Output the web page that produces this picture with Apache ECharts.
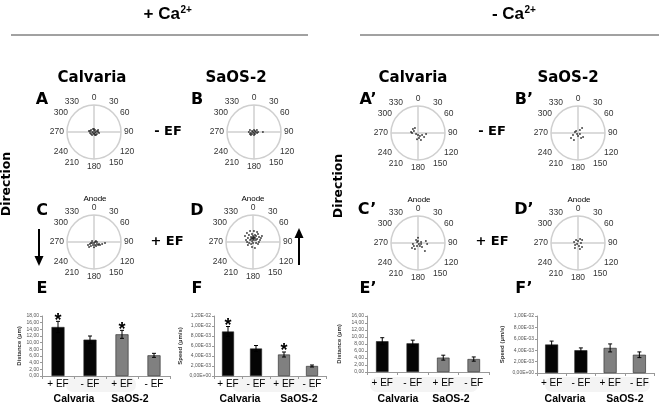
<!DOCTYPE html>
<html><head><meta charset="utf-8">
<script src="https://cdn.jsdelivr.net/npm/echarts@6/dist/echarts.min.js"></script>
<style>html,body{margin:0;padding:0;background:#fff}#c{width:662px;height:406px}</style>
</head><body><div id="c"></div>
<script>
// ---------- DATA ----------
const groups = ['+ EF', '- EF', '+ EF', '- EF'];
const cellTypes = ['Calvaria', 'SaOS-2'];
const angleTicks = [0, 30, 60, 90, 120, 150, 180, 210, 240, 270, 300, 330];

// +Ca2+ : distance (µm) and speed (µm/s)
const distPlusCa = [14.7, 10.9, 12.5, 6.2];
const distPlusCaErr = [1.7, 1.1, 1.2, 0.6];
const speedPlusCa = [0.0089, 0.0055, 0.0043, 0.0020];
const speedPlusCaErr = [0.0010, 0.0006, 0.0005, 0.0002];
const sigPlusCa = [1, 0, 1, 0];

// -Ca2+
const distMinusCa = [8.8, 8.2, 4.1, 3.7];
const distMinusCaErr = [1.0, 0.9, 0.7, 0.6];
const speedMinusCa = [0.0050, 0.0040, 0.0044, 0.0032];
const speedMinusCaErr = [0.0006, 0.0004, 0.0007, 0.0005];
const sigMinusCa = [0, 0, 0, 0];

const distTicks16 = ['0,00','2,00','4,00','6,00','8,00','10,00','12,00','14,00','16,00'];
const distTicks18 = ['0,00','2,00','4,00','6,00','8,00','10,00','12,00','14,00','16,00','18,00'];
const speedTicks12 = ['0,00E+00','2,00E-03','4,00E-03','6,00E-03','8,00E-03','1,00E-02','1,20E-02'];
const speedTicks10 = ['0,00E+00','2,00E-03','4,00E-03','6,00E-03','8,00E-03','1,00E-02'];

// direction scatter: [normalised distance, angle in degrees (0 = anode)]
const dirA = [[0.19,281],[0.15,256],[0.13,304],[0.13,236],[0.07,270],[0.12,342],[0.05,225],[0.04,0],[0.07,180],[0.08,27],[0.05,135],[0.07,90],[0.13,146],[0.12,72],[0.13,124],[0.15,90],[0.19,101],[0.13,214],[0.11,0],[0.15,284],[0.12,162],[0.17,63]];
const dirB = [[0.19,270],[0.17,297],[0.12,252],[0.08,297],[0.10,225],[0.04,270],[0.07,0],[0.04,180],[0.05,45],[0.08,153],[0.07,90],[0.13,56],[0.12,108],[0.16,225],[0.11,180],[0.17,243],[0.15,90],[0.33,90]];
const dirC = [[0.25,243],[0.17,243],[0.19,217],[0.08,243],[0.12,198],[0.04,180],[0.12,162],[0.17,153],[0.13,124],[0.19,127],[0.20,112],[0.25,117],[0.31,104],[0.41,95],[0.26,225],[0.19,180],[0.08,63],[0.08,297],[0.04,90],[0.11,90],[0.12,252]];
const dirD = [[0.37,307],[0.40,326],[0.24,309],[0.30,330],[0.13,304],[0.20,338],[0.30,353],[0.15,0],[0.11,0],[0.19,11],[0.08,27],[0.27,16],[0.17,27],[0.25,27],[0.19,53],[0.35,32],[0.29,50],[0.27,74],[0.33,63],[0.40,56],[0.27,286],[0.22,270],[0.15,256],[0.10,225],[0.04,180],[0.12,108],[0.20,112],[0.19,191],[0.23,162],[0.42,345],[0.41,5],[0.40,22],[0.05,315],[0.22,0],[0.13,326],[0.13,56],[0.22,239],[0.22,90],[0.15,346],[0.15,14]];
const dirA2 = [[0.24,309],[0.17,297],[0.26,278],[0.08,243],[0.07,180],[0.13,146],[0.17,117],[0.30,97],[0.19,169],[0.23,189],[0.28,157],[0.22,329],[0.22,270],[0.27,124]];
const dirB2 = [[0.32,234],[0.20,248],[0.12,288],[0.10,315],[0.13,34],[0.24,39],[0.11,180],[0.22,149],[0.24,129],[0.30,210],[0.05,225],[0.08,117]];
const dirC2 = [[0.19,0],[0.13,326],[0.07,0],[0.12,72],[0.30,76],[0.34,96],[0.19,259],[0.19,233],[0.12,198],[0.13,146],[0.21,135],[0.39,139],[0.29,230],[0.05,135],[0.05,315],[0.12,108],[0.25,207]];
const dirD2 = [[0.13,326],[0.17,27],[0.19,53],[0.15,284],[0.07,0],[0.11,90],[0.13,236],[0.12,162],[0.21,135],[0.22,211],[0.23,162],[0.05,225]];

// ---------- LAYOUT ----------
const FB = '"Liberation Sans", Arial, sans-serif';
const FD = '"DejaVu Sans", sans-serif';
const roses = [
  {pts: dirA,  c: [94, 132]}, {pts: dirB,  c: [254, 132]},
  {pts: dirC,  c: [94, 242]}, {pts: dirD,  c: [253, 242]},
  {pts: dirA2, c: [418, 133]}, {pts: dirB2, c: [578, 133]},
  {pts: dirC2, c: [418, 243]}, {pts: dirD2, c: [578, 243]}
];
const R = 27;

const polar = [], angleAxis = [], radiusAxis = [], series = [];
roses.forEach((r, k) => {
  const li = 2 * k, ci = 2 * k + 1;
  polar.push({center: r.c, radius: R});
  polar.push({center: r.c, radius: R});
  angleAxis.push({
    polarIndex: li, type: 'value', min: 0, max: 360, interval: 30, startAngle: 90, clockwise: true,
    axisLine: {show: true, lineStyle: {color: '#cfcfcf', width: 1.5}},
    axisTick: {show: false}, splitLine: {show: false},
    axisLabel: {show: true, margin: 3, fontSize: 8.5, fontFamily: FB, color: '#333',
      formatter: v => (v >= 360 ? '' : String(v))}
  });
  angleAxis.push({
    polarIndex: ci, type: 'value', min: 0, max: 360, interval: 90, startAngle: 90, clockwise: true,
    axisLine: {show: false}, axisTick: {show: false}, axisLabel: {show: false},
    splitLine: {show: true, lineStyle: {color: '#cfcfcf', width: 1.5}}
  });
  radiusAxis.push({polarIndex: li, type: 'value', min: 0, max: 1, show: false});
  radiusAxis.push({polarIndex: ci, type: 'value', min: 0, max: 1, show: false});
  series.push({type: 'scatter', coordinateSystem: 'polar', polarIndex: li, data: r.pts,
    symbolSize: 2, itemStyle: {color: '#1a1a1a'}, silent: true, z: 5});
});

const bars = [
  {grid: {left: 42, top: 316, width: 128, height: 60}, v: distPlusCa, e: distPlusCaErr, s: sigPlusCa,
   max: 18, step: 2, ticks: distTicks18, name: 'Distance (µm)', gap: 18, bw: 13, lm: 3},
  {grid: {left: 214, top: 316, width: 112, height: 60}, v: speedPlusCa, e: speedPlusCaErr, s: sigPlusCa,
   max: 0.012, step: 0.002, ticks: speedTicks12, name: 'Speed (µm/s)', gap: 31, bw: 12, lm: 3},
  {grid: {left: 367, top: 316, width: 122, height: 56}, v: distMinusCa, e: distMinusCaErr, s: sigMinusCa,
   max: 16, step: 2, ticks: distTicks16, name: 'Distance (µm)', gap: 25, bw: 12.5, lm: 6},
  {grid: {left: 537, top: 316, width: 117, height: 57}, v: speedMinusCa, e: speedMinusCaErr, s: sigMinusCa,
   max: 0.01, step: 0.002, ticks: speedTicks10, name: 'Speed (µm/s)', gap: 32, bw: 13, lm: 5}
];
const grid = [], xAxis = [], yAxis = [];
bars.forEach((b, g) => {
  grid.push(Object.assign({containLabel: false}, b.grid));
  xAxis.push({gridIndex: g, type: 'category', data: groups,
    axisLine: {lineStyle: {color: '#999', width: 1}},
    axisTick: {show: true, length: 3, lineStyle: {color: '#999'}},
    axisLabel: {interval: 0, margin: b.lm, fontSize: 10, color: '#000', fontFamily: FB}});
  yAxis.push({gridIndex: g, type: 'value', min: 0, max: b.max, interval: b.step,
    name: b.name, nameLocation: 'middle', nameGap: b.gap,
    nameTextStyle: {fontSize: 6, fontWeight: 'bold', color: '#333', fontFamily: FB},
    axisLine: {show: true, lineStyle: {color: '#999'}},
    axisTick: {show: true, length: 2, lineStyle: {color: '#999'}},
    splitLine: {show: false},
    axisLabel: {fontSize: 5, color: '#555', margin: 3, fontFamily: FB,
      formatter: v => b.ticks[Math.round(v / b.step)] || ''}});
  series.push({type: 'bar', xAxisIndex: g, yAxisIndex: g, data: b.v, barWidth: b.bw, silent: true,
    itemStyle: {color: p => (p.dataIndex < 2 ? '#050505' : '#808080'), borderColor: '#222', borderWidth: 0.6}});
  series.push({type: 'custom', xAxisIndex: g, yAxisIndex: g, silent: true, z: 10,
    data: b.v.map((m, i) => [i, m, b.e[i], b.s[i]]),
    encode: {x: 0, y: 1},
    renderItem: (params, api) => {
      const i = api.value(0), m = api.value(1), e = api.value(2), s = api.value(3);
      const top = api.coord([i, m + e]), bot = api.coord([i, m - e]);
      const st = {stroke: '#000', lineWidth: 1};
      const ch = [
        {type: 'line', shape: {x1: top[0], y1: top[1], x2: bot[0], y2: bot[1]}, style: st},
        {type: 'line', shape: {x1: top[0] - 2, y1: top[1], x2: top[0] + 2, y2: top[1]}, style: st},
        {type: 'line', shape: {x1: bot[0] - 2, y1: bot[1], x2: bot[0] + 2, y2: bot[1]}, style: st}
      ];
      if (s) ch.push({type: 'text', x: top[0], y: top[1] - 0.5,
        style: {text: '*', font: 'bold 18px ' + FB, fill: '#000', align: 'center', verticalAlign: 'middle'}});
      return {type: 'group', children: ch};
    }});
});

// ---------- TEXT / DECORATION ----------
function T(text, x, y, font, align, extra) {
  return Object.assign({type: 'text', x: x, y: y, silent: true, z: 20,
    style: {text: text, font: font, fill: '#000', align: align || 'center', verticalAlign: 'middle'}}, extra || {});
}
const big = 'bold 15px ' + FD, letter = 'bold 16px ' + FD, ef = 'bold 13px ' + FD;
const graphic = [
  // soft bands behind category labels
  {type: 'rect', shape: {x: 66, y: 377, width: 70, height: 15, r: 7}, style: {fill: '#f4f4f4'}, z: -1, silent: true},
  {type: 'rect', shape: {x: 232, y: 377, width: 84, height: 15, r: 7}, style: {fill: '#f4f4f4'}, z: -1, silent: true},
  {type: 'rect', shape: {x: 370, y: 377, width: 108, height: 15, r: 7}, style: {fill: '#f4f4f4'}, z: -1, silent: true},
  {type: 'rect', shape: {x: 545, y: 377, width: 105, height: 15, r: 7}, style: {fill: '#f4f4f4'}, z: -1, silent: true},
  T('+ Ca', 180, 14, 'bold 17px ' + FB, 'right'),
  T('2+', 180.5, 10, 'bold 10px ' + FB, 'left'),
  T('- Ca', 524, 14, 'bold 17px ' + FB, 'right'),
  T('2+', 524.5, 10, 'bold 10px ' + FB, 'left'),
  {type: 'line', shape: {x1: 11, y1: 35, x2: 308, y2: 35}, style: {stroke: '#444', lineWidth: 1}, silent: true},
  {type: 'line', shape: {x1: 360, y1: 35, x2: 659, y2: 35}, style: {stroke: '#444', lineWidth: 1}, silent: true},
  T(cellTypes[0], 92, 78, big), T(cellTypes[1], 236, 78, big),
  T(cellTypes[0], 413, 78, big), T(cellTypes[1], 568, 78, big),
  T('A', 42, 100, letter), T('B', 197, 100, letter), T('C', 42, 211, letter), T('D', 197, 211, letter),
  T('E', 42, 289, letter), T('F', 197, 289, letter),
  T('A’', 368, 100, letter), T('B’', 524, 100, letter), T('C’', 367, 210, letter), T('D’', 524, 210, letter),
  T('E’', 368, 289, letter), T('F’', 524, 289, letter),
  T('- EF', 168, 132, ef), T('+ EF', 167, 242, ef), T('- EF', 492, 132, ef), T('+ EF', 492, 242, ef),
  T('Anode', 95, 199, '8px ' + FB, 'center'), T('Anode', 253, 199, '8px ' + FB, 'center'),
  T('Anode', 419, 200, '8px ' + FB, 'center'), T('Anode', 579, 200, '8px ' + FB, 'center'),
  T('Direction', 7, 184, 'bold 12.5px ' + FD, 'center', {rotation: Math.PI / 2}),
  T('Direction', 339, 186, 'bold 12.5px ' + FD, 'center', {rotation: Math.PI / 2}),
  // arrows
  {type: 'line', shape: {x1: 39, y1: 229, x2: 39, y2: 258}, style: {stroke: '#000', lineWidth: 2}, silent: true},
  {type: 'polygon', shape: {points: [[34.5, 256], [43.5, 256], [39, 266]]}, style: {fill: '#000'}, silent: true},
  {type: 'line', shape: {x1: 299, y1: 265, x2: 299, y2: 236}, style: {stroke: '#000', lineWidth: 2}, silent: true},
  {type: 'polygon', shape: {points: [[294.5, 238], [303.5, 238], [299, 228]]}, style: {fill: '#000'}, silent: true},
  // group labels under bar charts
  T(cellTypes[0], 74, 399, 'bold 10.5px ' + FB), T(cellTypes[1], 130, 399, 'bold 10.5px ' + FB),
  T(cellTypes[0], 240, 399, 'bold 10.5px ' + FB), T(cellTypes[1], 299, 399, 'bold 10.5px ' + FB),
  T(cellTypes[0], 398, 399, 'bold 10.5px ' + FB), T(cellTypes[1], 451, 399, 'bold 10.5px ' + FB),
  T(cellTypes[0], 565, 399, 'bold 10.5px ' + FB), T(cellTypes[1], 625, 399, 'bold 10.5px ' + FB)
];

const chart = echarts.init(document.getElementById('c'), null, {renderer: 'canvas'});
chart.setOption({
  animation: false,
  backgroundColor: '#fff',
  polar, angleAxis, radiusAxis, grid, xAxis, yAxis, series, graphic
});
</script></body></html>
